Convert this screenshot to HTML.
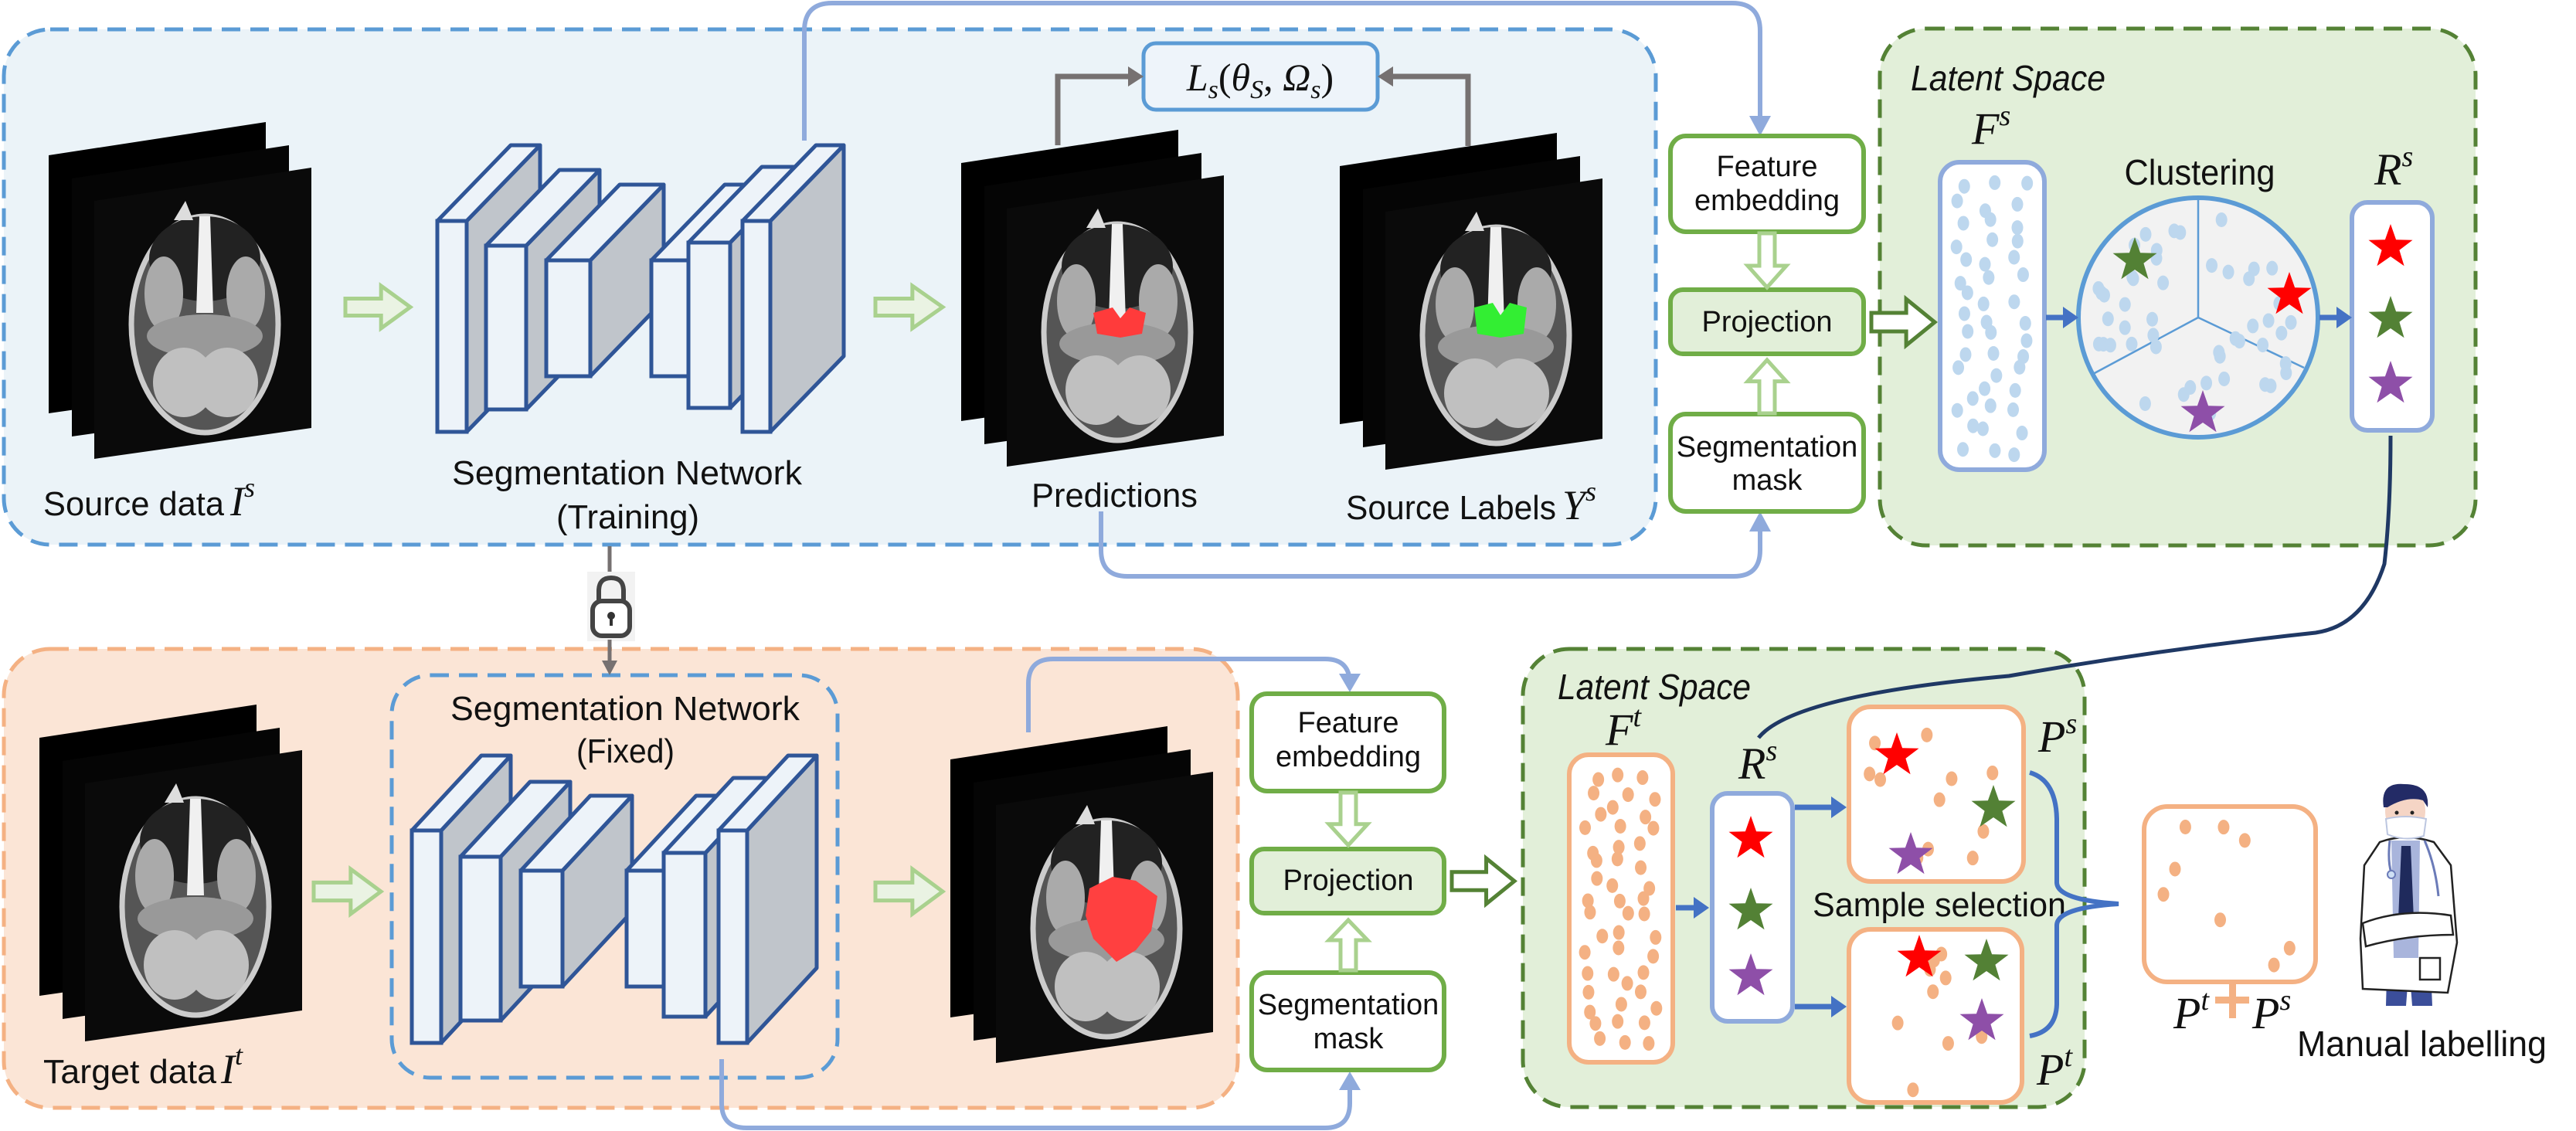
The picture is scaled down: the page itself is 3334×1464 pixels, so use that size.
<!DOCTYPE html>
<html><head><meta charset="utf-8"><style>
html,body{margin:0;padding:0;background:#fff;}
svg{display:block;}
.t{font-family:"Liberation Sans Narrow","Liberation Sans",sans-serif;fill:#111;}
.m{font-family:"Liberation Serif",serif;font-style:italic;fill:#111;}
</style></head><body>
<svg id="s" xmlns="http://www.w3.org/2000/svg" width="3334" height="1464" viewBox="0 0 3334 1464">
<defs>
<g id="stack">
  <polygon points="63,201 344,158 344,495 63,535" fill="#000"/>
  <polygon points="93,231 374,188 374,525 93,565" fill="#050505"/>
  <polygon points="122,260 403,217 403,554 122,594" fill="#0a0a0a"/>
  <ellipse cx="265" cy="420" rx="95" ry="140" fill="#555" stroke="#ccc" stroke-width="7"/>
  <ellipse cx="265" cy="335" rx="72" ry="55" fill="#222"/>
  <path d="M258 280 L272 280 L276 405 L254 405 Z" fill="#f0f0f0"/>
  <ellipse cx="212" cy="380" rx="25" ry="48" fill="#aaa"/>
  <ellipse cx="318" cy="380" rx="25" ry="48" fill="#aaa"/>
  <ellipse cx="265" cy="435" rx="75" ry="28" fill="#999"/>
  <ellipse cx="238" cy="495" rx="40" ry="45" fill="#c0c0c0"/>
  <ellipse cx="294" cy="495" rx="40" ry="45" fill="#c0c0c0"/>
  <path d="M225 285 L240 260 L250 285 Z" fill="#ddd"/>
</g>
</defs>

<rect x="5" y="38" width="2138" height="667" rx="60" fill="#ebf3f8" stroke="#5b9bd5" stroke-width="5" stroke-dasharray="24 13"/>
<rect x="5" y="840" width="1597" height="594" rx="60" fill="#fbe5d6" stroke="#f4b183" stroke-width="5" stroke-dasharray="24 13"/>
<rect x="507" y="874" width="577" height="521" rx="50" fill="none" stroke="#5b9bd5" stroke-width="5" stroke-dasharray="24 13"/>
<rect x="2433" y="37" width="771" height="669" rx="60" fill="#e2efd9" stroke="#548235" stroke-width="5" stroke-dasharray="24 13"/>
<rect x="1971" y="840" width="727" height="593" rx="60" fill="#e2efd9" stroke="#548235" stroke-width="5" stroke-dasharray="24 13"/>

<use href="#stack"/>
<use href="#stack" transform="translate(1181,10)"/>
<use href="#stack" transform="translate(1671,14)"/>
<use href="#stack" transform="translate(-12,754)"/>
<use href="#stack" transform="translate(1167,782)"/>
<path d="M1415 405 L1440 398 L1450 412 L1462 398 L1483 405 L1478 432 L1450 437 L1420 432 Z" fill="#ff3b3b"/>
<path d="M1908 398 L1932 392 L1942 408 L1954 392 L1976 398 L1972 432 L1942 437 L1912 432 Z" fill="#33ee33"/>
<path d="M1410 1150 L1440 1135 L1470 1140 L1498 1160 L1490 1205 L1470 1230 L1445 1245 L1415 1215 L1405 1185 Z" fill="#ff4040"/>

<rect x="1480" y="56" width="303" height="86" rx="16" fill="#eef4fa" stroke="#5b9bd5" stroke-width="5"/>
<text x="1631" y="117" class="m" font-size="50" text-anchor="middle">L<tspan font-size="34" dy="10">s</tspan><tspan dy="-10" font-style="normal">(</tspan>θ<tspan font-size="34" dy="10">S</tspan><tspan dy="-10" font-style="normal">, </tspan>Ω<tspan font-size="34" dy="10">s</tspan><tspan dy="-10" font-style="normal">)</tspan></text>
<path d="M1369 188 V99 H1465" fill="none" stroke="#767171" stroke-width="7"/>
<polygon points="1480,99 1460,86 1460,112" fill="#767171"/>
<path d="M1900 189 V99 H1798" fill="none" stroke="#767171" stroke-width="7"/>
<polygon points="1783,99 1803,86 1803,112" fill="#767171"/>

<g fill="none" stroke="#8faadc" stroke-width="6">
<path d="M1041 182 V40 Q1041 4 1077 4 H2242 Q2278 4 2278 40 V155"/>
<path d="M1425 662 V712 Q1425 746 1459 746 H2244 Q2278 746 2278 712 V680"/>
<path d="M1331 948 V885 Q1331 853 1363 853 H1715 Q1747 853 1747 885 V880"/>
<path d="M934 1371 V1428 Q934 1460 966 1460 H1715 Q1747 1460 1747 1428 V1405"/>
</g>
<g fill="#8faadc">
<polygon points="2278,176 2264,150 2292,150"/>
<polygon points="2278,662 2264,688 2292,688"/>
<polygon points="1747,896 1733,872 1761,872"/>
<polygon points="1747,1387 1733,1411 1761,1411"/>
</g>

<g stroke="#70ad47" stroke-width="6">
<rect x="2162" y="176" width="250" height="124" rx="20" fill="#fff"/>
<rect x="2162" y="375" width="250" height="83" rx="16" fill="#e2efd9"/>
<rect x="2162" y="536" width="250" height="126" rx="20" fill="#fff"/>
<rect x="1620" y="898" width="249" height="126" rx="20" fill="#fff"/>
<rect x="1620" y="1099" width="249" height="83" rx="16" fill="#e2efd9"/>
<rect x="1620" y="1259" width="249" height="126" rx="20" fill="#fff"/>
</g>
<g class="t" font-size="38" text-anchor="middle">
<text x="2287" y="228">Feature</text><text x="2287" y="272">embedding</text>
<text x="2287" y="429">Projection</text>
<text x="2287" y="591">Segmentation</text><text x="2287" y="634">mask</text>
<text x="1745" y="948">Feature</text><text x="1745" y="992">embedding</text>
<text x="1745" y="1152">Projection</text>
<text x="1745" y="1313">Segmentation</text><text x="1745" y="1357">mask</text>
</g>

<text x="2473" y="117" class="t" font-size="46" font-style="italic" textLength="252" lengthAdjust="spacingAndGlyphs">Latent Space</text>
<text x="2552" y="186" class="m" font-size="58">F<tspan font-size="38" dy="-24">s</tspan></text>
<rect x="2511" y="210" width="135" height="398" rx="25" fill="#fff" stroke="#8faadc" stroke-width="6"/>
<text x="2847" y="239" class="t" font-size="46" text-anchor="middle" textLength="195" lengthAdjust="spacingAndGlyphs">Clustering</text>
<circle cx="2845" cy="411" r="155" fill="#f2f2f2" stroke="#5b9bd5" stroke-width="6"/>
<g stroke="#5b9bd5" stroke-width="2.5"><line x1="2845" y1="411" x2="2845" y2="258"/><line x1="2845" y1="411" x2="2709" y2="484"/><line x1="2845" y1="411" x2="2982" y2="476"/></g>
<text x="3073" y="239" class="m" font-size="58">R<tspan font-size="38" dy="-24">s</tspan></text>
<rect x="3044" y="262" width="104" height="295" rx="20" fill="#fff" stroke="#8faadc" stroke-width="6"/>

<text x="2016" y="905" class="t" font-size="46" font-style="italic" textLength="250" lengthAdjust="spacingAndGlyphs">Latent Space</text>
<text x="2078" y="964" class="m" font-size="58">F<tspan font-size="38" dy="-24">t</tspan></text>
<rect x="2031" y="977" width="134" height="398" rx="25" fill="#fff" stroke="#f4b183" stroke-width="6"/>
<text x="2250" y="1008" class="m" font-size="58">R<tspan font-size="38" dy="-24">s</tspan></text>
<rect x="2216" y="1027" width="104" height="295" rx="20" fill="#fff" stroke="#8faadc" stroke-width="6"/>
<rect x="2393" y="915" width="226" height="226" rx="28" fill="#fff" stroke="#f4b183" stroke-width="6"/>
<rect x="2393" y="1203" width="224" height="224" rx="28" fill="#fff" stroke="#f4b183" stroke-width="6"/>
<text x="2510" y="1186" class="t" font-size="44" text-anchor="middle" textLength="328" lengthAdjust="spacingAndGlyphs">Sample selection</text>
<text x="2638" y="973" class="m" font-size="58">P<tspan font-size="38" dy="-24">s</tspan></text>
<text x="2636" y="1404" class="m" font-size="58">P<tspan font-size="38" dy="-24">t</tspan></text>
<path d="M2627 1000 Q2661 1010 2662 1060 V1142 Q2662 1165 2742 1170 Q2662 1175 2662 1198 V1300 Q2661 1335 2627 1341" fill="none" stroke="#4472c4" stroke-width="6"/>
<rect x="2775" y="1044" width="222" height="227" rx="30" fill="#fff" stroke="#f4b183" stroke-width="6"/>
<text x="2813" y="1331" class="m" font-size="58">P<tspan font-size="38" dy="-24">t</tspan></text>
<rect x="2867" y="1290" width="44" height="9" fill="#f4b183"/><rect x="2885" y="1272" width="9" height="46" fill="#f4b183"/>
<text x="2915" y="1331" class="m" font-size="58">P<tspan font-size="38" dy="-24">s</tspan></text>
<text x="2973" y="1367" class="t" font-size="46" textLength="323" lengthAdjust="spacingAndGlyphs">Manual labelling</text>

<path d="M3094 564 Q3094 660 3086 730 Q3060 810 2997 819 Q2800 840 2600 875 Q2320 900 2276 955" fill="none" stroke="#1f3864" stroke-width="5"/>

<line x1="789" y1="707" x2="789" y2="745" stroke="#767171" stroke-width="5"/>
<rect x="760" y="740" width="62" height="90" fill="#f2f2f2"/>
<path d="M775 780 V765 Q775 748 791 748 Q807 748 807 765 V780" fill="none" stroke="#444" stroke-width="6"/>
<rect x="767" y="778" width="48" height="45" rx="12" fill="#fff" stroke="#444" stroke-width="6"/>
<circle cx="791" cy="797" r="5" fill="#333"/><rect x="789" y="798" width="4" height="12" fill="#333"/>
<line x1="789" y1="828" x2="789" y2="858" stroke="#767171" stroke-width="5"/>
<polygon points="789,874 779,855 799,855" fill="#767171"/>

<text x="56" y="667" class="t" font-size="44" textLength="234" lengthAdjust="spacingAndGlyphs">Source data</text>
<text x="298" y="667" class="m" font-size="54">I<tspan font-size="36" dy="-24">s</tspan></text>
<text x="585" y="627" class="t" font-size="44" textLength="453" lengthAdjust="spacingAndGlyphs">Segmentation Network</text>
<text x="720" y="684" class="t" font-size="44" textLength="185" lengthAdjust="spacingAndGlyphs">(Training)</text>
<text x="1335" y="656" class="t" font-size="44" textLength="215" lengthAdjust="spacingAndGlyphs">Predictions</text>
<text x="1742" y="672" class="t" font-size="44" textLength="272" lengthAdjust="spacingAndGlyphs">Source Labels</text>
<text x="2022" y="672" class="m" font-size="54">Y<tspan font-size="36" dy="-24">s</tspan></text>
<text x="583" y="932" class="t" font-size="44" textLength="452" lengthAdjust="spacingAndGlyphs">Segmentation Network</text>
<text x="746" y="987" class="t" font-size="44" textLength="127" lengthAdjust="spacingAndGlyphs">(Fixed)</text>
<text x="56" y="1402" class="t" font-size="44" textLength="224" lengthAdjust="spacingAndGlyphs">Target data</text>
<text x="286" y="1402" class="m" font-size="54">I<tspan font-size="36" dy="-24">t</tspan></text>

<!-- Doctor -->
<g>
<path d="M3090 1230 L3145 1230 L3148 1302 L3122 1302 L3118 1250 L3114 1302 L3088 1302 Z" fill="#3b4e9a"/>
<path d="M3080 1090 Q3113 1078 3150 1090 L3172 1120 L3180 1220 L3168 1285 L3058 1280 L3055 1215 L3060 1120 Z" fill="#fff" stroke="#222" stroke-width="2.5"/>
<path d="M3095 1088 L3132 1088 L3130 1240 L3098 1240 Z" fill="#a9b5dc"/>
<path d="M3108 1095 L3120 1095 L3124 1190 L3114 1205 L3104 1190 Z" fill="#1f2a5c"/>
<path d="M3058 1195 Q3110 1175 3172 1185 L3175 1210 Q3115 1210 3062 1225 Z" fill="#fff" stroke="#222" stroke-width="2.5"/>
<rect x="3132" y="1240" width="26" height="28" fill="none" stroke="#222" stroke-width="2.5"/>
<path d="M3093 1088 Q3090 1115 3095 1130 M3138 1088 Q3152 1120 3156 1160" fill="none" stroke="#6b7bb8" stroke-width="3"/>
<circle cx="3095" cy="1132" r="5" fill="#cfe0f5" stroke="#6b7bb8" stroke-width="2"/>
<ellipse cx="3113" cy="1050" rx="26" ry="32" fill="#f5d5c5"/>
<path d="M3085 1045 Q3080 1012 3112 1015 Q3145 1015 3142 1045 L3136 1036 Q3115 1030 3090 1045 Z" fill="#232b66"/>
<path d="M3088 1060 Q3113 1054 3140 1060 L3137 1082 Q3113 1090 3090 1080 Z" fill="#fff" stroke="#bcc6e0" stroke-width="2"/>
<circle cx="3102" cy="1052" r="2.5" fill="#222"/><circle cx="3122" cy="1052" r="2.5" fill="#222"/>
</g>
</svg>
<script>
var NS="http://www.w3.org/2000/svg",S=document.getElementById("s");
function el(n,a,p){var e=document.createElementNS(NS,n);for(var k in a)e.setAttribute(k,a[k]);(p||S).appendChild(e);return e;}
function block(x,y,w,h,dx,dy){
 el("polygon",{points:[x+w,y, x+w+dx,y+dy, x+w+dx,y+h+dy, x+w,y+h].join(" "),fill:"#c0c5cb",stroke:"#2f5597","stroke-width":5,"stroke-linejoin":"round"});
 el("polygon",{points:[x,y, x+dx,y+dy, x+w+dx,y+dy, x+w,y].join(" "),fill:"#edf3f9",stroke:"#2f5597","stroke-width":5,"stroke-linejoin":"round"});
 el("rect",{x:x,y:y,width:w,height:h,fill:"#edf3f9",stroke:"#2f5597","stroke-width":5});
}
function net(list,dx,dy){list.forEach(function(b){block(b[0],b[1],b[2],b[3],dx,dy);});}
net([[566,286,38,273],[629,318,52,212],[707,337,57,150],[843,337,48,150],[891,314,54,214],[961,286,36,273]],95,-98);
net([[533,1075,38,275],[596,1109,52,212],[674,1127,54,150],[811,1127,48,150],[859,1104,54,212],[930,1075,37,275]],90,-97);
function harrow(x,y,w,h,stroke,fill,sw){
 var sy=h*0.3,hx=x+w*0.55;
 el("polygon",{points:[x,y+sy, hx,y+sy, hx,y, x+w,y+h/2, hx,y+h, hx,y+h-sy, x,y+h-sy].join(" "),fill:fill,stroke:stroke,"stroke-width":sw});
}
function varrow(x,y,w,h,up,stroke,fill,sw){
 var sx=w*0.3,hy=up?y+h*0.4:y+h*0.6;
 var pts=up?[x+sx,y+h, x+sx,hy, x,hy, x+w/2,y, x+w,hy, x+w-sx,hy, x+w-sx,y+h]:[x+sx,y, x+sx,hy, x,hy, x+w/2,y+h, x+w,hy, x+w-sx,hy, x+w-sx,y];
 el("polygon",{points:pts.join(" "),fill:fill,stroke:stroke,"stroke-width":sw});
}
harrow(447,370,84,55,"#a9d18e","#eaf3e3",5);
harrow(1133,370,87,55,"#a9d18e","#eaf3e3",5);
harrow(406,1125,87,58,"#a9d18e","#eaf3e3",5);
harrow(1133,1125,87,58,"#a9d18e","#eaf3e3",5);
harrow(2422,387,82,60,"#548235","#fff",5);
harrow(1879,1111,81,59,"#548235","#fff",5);
varrow(2262,302,50,70,false,"#a9d18e","#fff",5);
varrow(2262,466,50,69,true,"#a9d18e","#fff",5);
varrow(1720,1026,50,68,false,"#a9d18e","#fff",5);
varrow(1720,1191,50,65,true,"#a9d18e","#fff",5);
function barrow(x1,x2,y){el("line",{x1:x1,y1:y,x2:x2-16,y2:y,stroke:"#4472c4","stroke-width":7});el("polygon",{points:[x2,y, x2-20,y-14, x2-20,y+14].join(" "),fill:"#4472c4"});}
barrow(2648,2690,411);barrow(3002,3044,411);barrow(2169,2212,1175);barrow(2323,2390,1045);barrow(2323,2390,1303);
var seed=7;function rnd(){seed=(seed*9301+49297)%233280;return seed/233280;}
function grid(x,y,w,h,cols,rows,c){var cw=w/cols,rh=h/rows;for(var i=0;i<cols;i++)for(var j=0;j<rows;j++)el("ellipse",{cx:x+(i+0.15+rnd()*0.7)*cw,cy:y+(j+0.15+rnd()*0.7)*rh,rx:7.5,ry:9.5,fill:c});}
function dots(x,y,w,h,n,c){for(var i=0;i<n;i++)el("ellipse",{cx:x+rnd()*w,cy:y+rnd()*h,rx:7.5,ry:9.5,fill:c});}
grid(2525,228,105,365,3,15,"#bdd7ee");
for(var i=0;i<48;i++){var a=rnd()*6.283,r=Math.sqrt(0.15+0.85*rnd())*135;el("ellipse",{cx:2845+Math.cos(a)*r,cy:411+Math.sin(a)*r,rx:7.5,ry:9.5,fill:"#bdd7ee"});}
grid(2045,993,105,368,3,16,"#f4b183");
dots(2410,935,190,190,12,"#f4b183");
dots(2410,1225,190,190,9,"#f4b183");
dots(2800,1070,170,180,8,"#f4b183");
function star(cx,cy,R,c){var p=[];for(var i=0;i<10;i++){var r=i%2?R*0.4:R,a=-Math.PI/2+i*Math.PI/5;p.push((cx+r*Math.cos(a)).toFixed(1),(cy+r*Math.sin(a)).toFixed(1));}el("polygon",{points:p.join(" "),fill:c});}
star(2763,337,30,"#538135");star(2963,382,30,"#ff0000");star(2851,535,30,"#8e4fa8");
star(3094,320,30,"#ff0000");star(3094,413,30,"#538135");star(3094,497,30,"#8e4fa8");
star(2266,1086,30,"#ff0000");star(2266,1179,30,"#538135");star(2266,1264,30,"#8e4fa8");
star(2455,978,30,"#ff0000");star(2580,1046,30,"#538135");star(2473,1107,30,"#8e4fa8");
star(2484,1240,30,"#ff0000");star(2571,1245,30,"#538135");star(2565,1322,30,"#8e4fa8");
</script>
</body></html>
